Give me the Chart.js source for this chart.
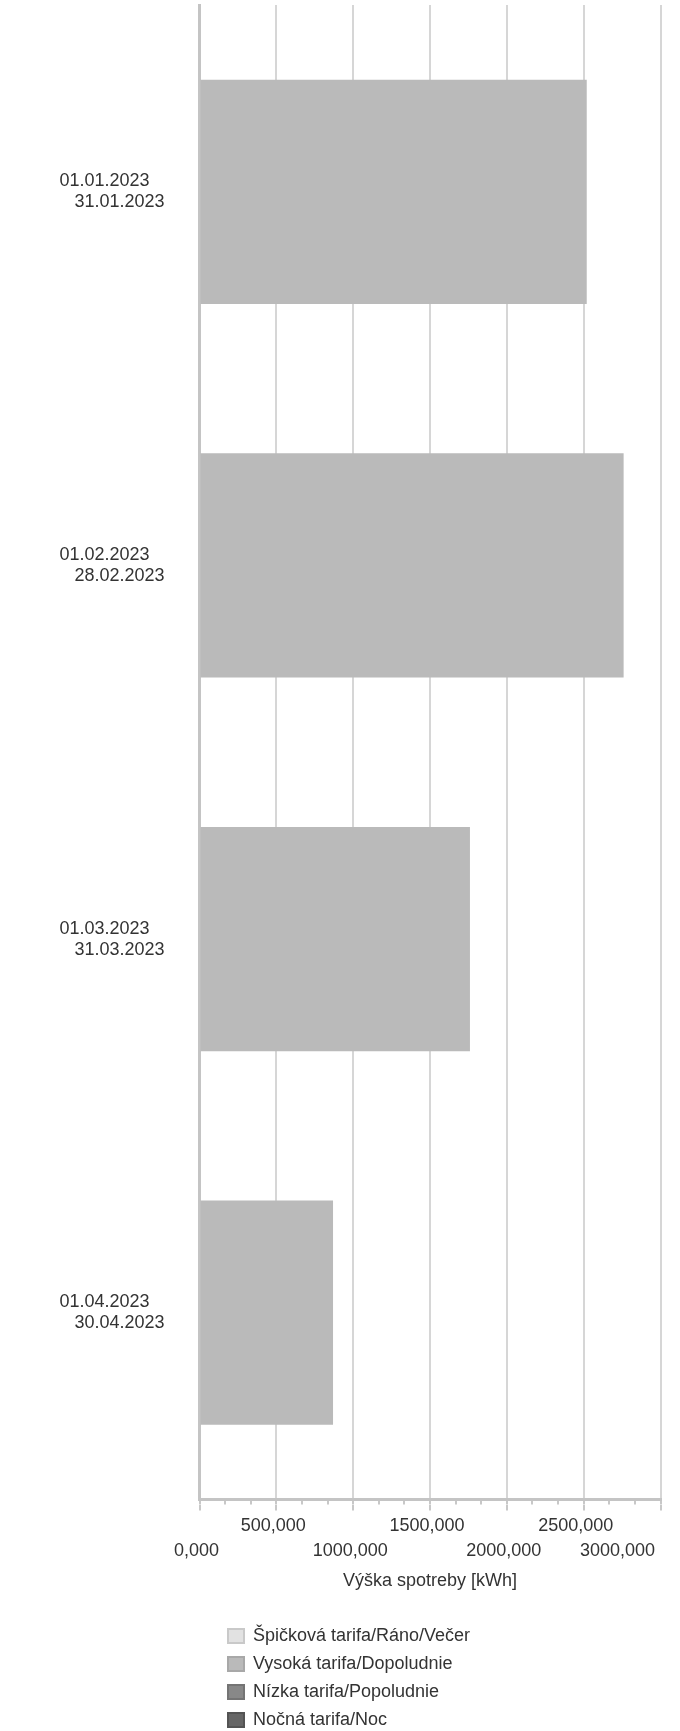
<!DOCTYPE html>
<html>
<head>
<meta charset="utf-8">
<script src="https://cdn.jsdelivr.net/npm/chart.js@4.4.0/dist/chart.umd.min.js"></script>
<style>
    body { margin: 0; background: #fff; }
    #wrap { width: 680px; height: 1731px; }
</style>
</head>
<body>
<div id="wrap"><canvas id="myChart"></canvas></div>
<script>
// data
const periodStart = ['01.01.2023', '01.02.2023', '01.03.2023', '01.04.2023'];
const periodEnd = ['31.01.2023', '28.02.2023', '31.03.2023', '30.04.2023'];
const seriesNames = ['Špičková tarifa/Ráno/Večer', 'Vysoká tarifa/Dopoludnie', 'Nízka tarifa/Popoludnie', 'Nočná tarifa/Noc'];
const spickova = [0, 0, 0, 0];
const vysoka = [2520, 2760, 1760, 869];
const nizka = [0, 0, 0, 0];
const nocna = [0, 0, 0, 0];
const xMin = 0;
const xMax = 3000;
const xStep = 500;
const xMinorCount = 19;
const axisTitle = 'Výška spotreby [kWh]';

const fillColors = ['#e2e2e2', '#bababa', '#888888', '#666666'];
const borderColors = ['#c9c9c9', '#a8a8a8', '#747474', '#545454'];
const textColor = '#333333';

Chart.defaults.font.family = "'Liberation Sans', Arial, sans-serif";
Chart.defaults.font.size = 18;
Chart.defaults.color = textColor;

// legend goes under the axis title, one item per row
const legendPlacer = {
    id: 'legendPlacer',
    afterLayout(chart) {
        const lg = chart.legend;
        lg.left = 218;
        lg.right = 670;
        lg.width = lg.right - lg.left;
        lg.top = 1617;
        lg.bottom = 1765;
        lg.height = lg.bottom - lg.top;
    }
};

const series = [spickova, vysoka, nizka, nocna];
const datasets = series.map((data, i) => ({
    label: seriesNames[i],
    data: data,
    backgroundColor: fillColors[i],
    borderWidth: 0,
    categoryPercentage: 0.6,
    barPercentage: 1
}));

new Chart(document.getElementById('myChart'), {
    type: 'bar',
    data: {
        labels: periodStart.map((s, i) => [s + '   ', periodEnd[i]]),
        datasets: datasets
    },
    plugins: [legendPlacer],
    options: {
        indexAxis: 'y',
        responsive: true,
        maintainAspectRatio: false,
        animation: false,
        layout: { padding: { top: 5, right: 19.5, bottom: 135.5, left: 0 } },
        plugins: {
            tooltip: { enabled: false },
            legend: {
                position: 'chartArea',
                align: 'start',
                labels: {
                    boxWidth: 16,
                    boxHeight: 14,
                    padding: 10,
                    color: textColor,
                    font: { size: 18 },
                    generateLabels: (chart) => chart.data.datasets.map((ds, i) => ({
                        text: ds.label,
                        fillStyle: fillColors[i],
                        strokeStyle: borderColors[i],
                        lineWidth: 2,
                        fontColor: textColor,
                        hidden: false,
                        datasetIndex: i
                    }))
                }
            }
        },
        scales: {
            y: {
                stacked: true,
                z: 1,
                grid: { display: false, drawTicks: false },
                border: { display: true, color: '#c4c4c4', width: 3 },
                ticks: {
                    padding: 35,
                    autoSkip: false,
                    color: textColor,
                    font: { size: 18, lineHeight: 1.17 }
                },
                afterFit: (scale) => {
                    scale.width = 199.5;
                    scale.paddingTop = 0;
                    scale.paddingBottom = 0;
                }
            },
            xMinor: {
                type: 'linear',
                position: 'bottom',
                weight: 0,
                min: xMin,
                max: xMax,
                grid: {
                    drawOnChartArea: false,
                    tickLength: 5,
                    lineWidth: 2,
                    tickColor: '#c8c8c8'
                },
                border: { display: true, color: '#c4c4c4', width: 3 },
                ticks: { display: false, count: xMinorCount },
                afterFit: (scale) => {
                    scale.paddingLeft = 0;
                    scale.paddingRight = 0;
                }
            },
            x: {
                type: 'linear',
                position: 'bottom',
                weight: 1,
                stacked: true,
                min: xMin,
                max: xMax,
                grid: {
                    color: '#d6d6d6',
                    lineWidth: 2,
                    tickLength: 6,
                    tickColor: '#c8c8c8'
                },
                border: { display: false },
                ticks: {
                    stepSize: xStep,
                    autoSkip: false,
                    maxRotation: 0,
                    minRotation: 0,
                    padding: 3,
                    labelOffset: -3,
                    color: textColor,
                    font: { size: 18, lineHeight: 1.39 },
                    callback: (value, index) => {
                        let text = value.toFixed(3).replace('.', ',');
                        if (value === xMax) text += ' '.repeat(16);
                        else if (value === xMax - xStep) text += '  ';
                        return index % 2 === 0 ? ['', text] : [text];
                    }
                },
                title: {
                    display: true,
                    text: axisTitle,
                    color: textColor,
                    font: { size: 18 },
                    padding: { top: 6, bottom: 4 }
                },
                afterFit: (scale) => {
                    scale.height = 91;
                    scale.paddingLeft = 0;
                    scale.paddingRight = 0;
                }
            }
        }
    }
});
</script>
</body>
</html>
